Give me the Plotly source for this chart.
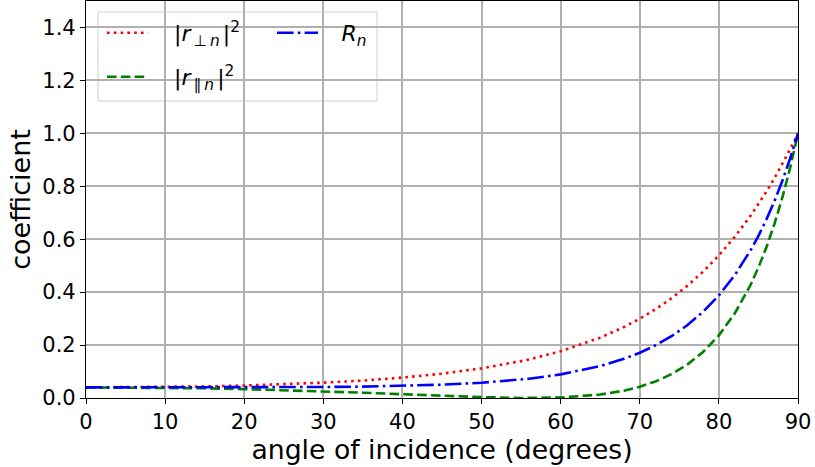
import plotly.graph_objects as go

# angle of incidence (degrees)
angles = [0, 5, 10, 15, 20, 25, 30, 35, 40, 45, 50, 55, 56, 60, 65, 68, 70, 72, 74, 76, 78,
          80, 82, 84, 85, 86, 87, 88, 89, 90]
# |r_perp|^2
r_perp2 = [0.0400, 0.0404, 0.0417, 0.0438, 0.0471, 0.0516, 0.0578, 0.0659, 0.0772, 0.0920,
           0.1121, 0.1393, 0.1458, 0.1766, 0.2281, 0.2681, 0.2996, 0.3356, 0.3767, 0.4236,
           0.4773, 0.5386, 0.6086, 0.6884, 0.7323, 0.7793, 0.8293, 0.8826, 0.9395, 1.0]
# |r_par|^2
r_par2 = [0.0400, 0.0396, 0.0384, 0.0366, 0.0335, 0.0296, 0.0253, 0.0200, 0.0143, 0.0085,
          0.0033, 0.0002, 0.0000, 0.0018, 0.0130, 0.0277, 0.0425, 0.0627, 0.0899, 0.1261,
          0.1740, 0.2368, 0.3193, 0.4272, 0.4932, 0.5688, 0.6555, 0.7548, 0.8689, 1.0]
# R_n
R_n = [0.0400, 0.0400, 0.0401, 0.0402, 0.0403, 0.0406, 0.0416, 0.0430, 0.0458, 0.0503,
       0.0577, 0.0698, 0.0729, 0.0892, 0.1206, 0.1479, 0.1710, 0.1992, 0.2333, 0.2749,
       0.3257, 0.3877, 0.4640, 0.5578, 0.6128, 0.6741, 0.7424, 0.8187, 0.9042, 1.0]

y_ticks = [0.0, 0.2, 0.4, 0.6, 0.8, 1.0, 1.2, 1.4]
x_ticks = [0, 10, 20, 30, 40, 50, 60, 70, 80, 90]

FONT = "DejaVu Sans"
L, R, T, B = 86, 17, 1, 69
W, H = 815, 467
pw, ph = W - L - R, H - T - B

def px_x(p):
    return (p - L) / pw

def px_y(p):
    return 1 - (p - T) / ph

NB = "\u00a0"
TH = "\u2009"
fig = go.Figure()
fig.add_trace(go.Scatter(x=angles, y=r_perp2, mode="lines",
                         name=NB * 3 + "|<i>r</i><sub>" + TH + "⊥" + TH + "<i>n</i>" + TH + "</sub>|<sup>2</sup>",
                         line=dict(color="red", width=2.6, dash="2.6px,4.2px"),
                         legend="legend", showlegend=True))
fig.add_trace(go.Scatter(x=angles, y=r_par2, mode="lines",
                         name=NB * 3 + "|<i>r</i><sub>" + TH + "∥" + TH + "<i>n</i>" + TH + "</sub>|<sup>2</sup>",
                         line=dict(color="green", width=2.6, dash="9.6px,4.2px"),
                         legend="legend2", showlegend=True))
fig.add_trace(go.Scatter(x=angles, y=R_n, mode="lines",
                         name=NB * 2 + TH + "<i>R<sub>n</sub></i>",
                         line=dict(color="blue", width=2.6, dash="16.6px,4.2px,2.6px,4.2px"),
                         legend="legend3", showlegend=True))

fig.add_shape(type="line", xref="paper", yref="y", x0=0, x1=1, y0=1, y1=1,
              line=dict(color="black", width=1.3), layer="between")
fig.add_shape(type="rect", xref="paper", yref="paper",
              x0=px_x(98), x1=px_x(377), y0=px_y(101), y1=px_y(12),
              fillcolor="rgba(255,255,255,0.8)", line=dict(color="#d0d0d0", width=1),
              layer="between")

leg_common = dict(bgcolor="rgba(0,0,0,0)", borderwidth=0, xanchor="left", yanchor="middle",
                  font=dict(family=FONT, size=22, color="black"), itemwidth=41,
                  visible=True)
fig.update_layout(
    showlegend=True,
    legend=dict(x=px_x(102), y=px_y(33), **leg_common),
    legend2=dict(x=px_x(102), y=px_y(77), **leg_common),
    legend3=dict(x=px_x(272), y=px_y(33), **leg_common),
)

axis_common = dict(showline=True, linecolor="black", linewidth=1.2, mirror=True,
                   showgrid=True, gridcolor="#b0b0b0", gridwidth=1.5,
                   ticks="outside", ticklen=5, tickcolor="black", tickwidth=1.2,
                   tickfont=dict(family=FONT, size=21, color="black"),
                   zeroline=False)
fig.update_xaxes(range=[0, 90], tickvals=x_ticks, ticktext=[str(v) for v in x_ticks],
                 title=dict(text="angle of incidence (degrees)",
                            font=dict(family=FONT, size=26.7, color="black"), standoff=2),
                 **axis_common)
fig.update_yaxes(range=[0, 1.5], tickvals=y_ticks, ticktext=[f"{v:.1f}" for v in y_ticks],
                 title=dict(text="coefficient",
                            font=dict(family=FONT, size=27, color="black"), standoff=3),
                 **axis_common)

fig.update_layout(width=W, height=H, margin=dict(l=L, r=R, t=T, b=B),
                  paper_bgcolor="white", plot_bgcolor="white",
                  font=dict(family=FONT, color="black"))
fig.write_html("out.html")
